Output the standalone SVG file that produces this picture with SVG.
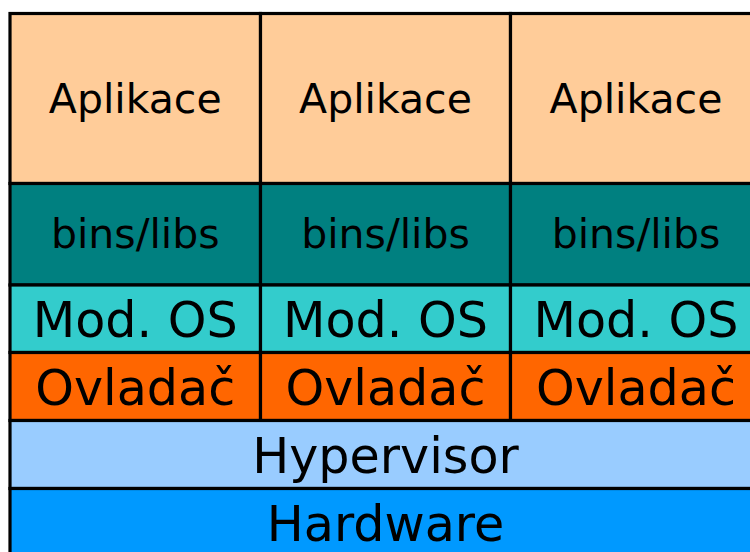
<svg xmlns="http://www.w3.org/2000/svg" width="750" height="552" viewBox="0 0 750 552">
  <style>
    .cell { stroke: #000; stroke-width: 3.2; }
    .app { fill: #ffcc99; }
    .lib { fill: #008080; }
    .os { fill: #33cccc; }
    .drv { fill: #ff6600; }
    .hyp { fill: #99ccff; }
    .hw { fill: #0099ff; }
    text { font-family: "DejaVu Sans", sans-serif; fill: #000; text-anchor: middle; }
    .s { font-size: 41px; }
    .l { font-size: 49.2px; }
  </style>
  <rect width="750" height="552" fill="#fff"/>

  <!-- column 1 -->
  <g id="col1">
    <g id="app1"><rect class="cell app" x="10" y="13.5" width="250.5" height="170"/><text class="s" x="135.25" y="113">Aplikace</text></g>
    <g id="lib1"><rect class="cell lib" x="10" y="183.5" width="250.5" height="101.5"/><text class="s" x="135.25" y="248">bins/libs</text></g>
    <g id="os1"><rect class="cell os" x="10" y="285" width="250.5" height="67.5"/><text class="l" x="135.25" y="336.5">Mod. OS</text></g>
    <g id="drv1"><rect class="cell drv" x="10" y="352.5" width="250.5" height="68"/><text class="l" x="135.25" y="404.5">Ovladač</text></g>
  </g>

  <!-- column 2 -->
  <g id="col2">
    <g id="app2"><rect class="cell app" x="260.5" y="13.5" width="250" height="170"/><text class="s" x="385.5" y="113">Aplikace</text></g>
    <g id="lib2"><rect class="cell lib" x="260.5" y="183.5" width="250" height="101.5"/><text class="s" x="385.5" y="248">bins/libs</text></g>
    <g id="os2"><rect class="cell os" x="260.5" y="285" width="250" height="67.5"/><text class="l" x="385.5" y="336.5">Mod. OS</text></g>
    <g id="drv2"><rect class="cell drv" x="260.5" y="352.5" width="250" height="68"/><text class="l" x="385.5" y="404.5">Ovladač</text></g>
  </g>

  <!-- column 3 -->
  <g id="col3">
    <g id="app3"><rect class="cell app" x="510.5" y="13.5" width="250.5" height="170"/><text class="s" x="636" y="113">Aplikace</text></g>
    <g id="lib3"><rect class="cell lib" x="510.5" y="183.5" width="250.5" height="101.5"/><text class="s" x="636" y="248">bins/libs</text></g>
    <g id="os3"><rect class="cell os" x="510.5" y="285" width="250.5" height="67.5"/><text class="l" x="636" y="336.5">Mod. OS</text></g>
    <g id="drv3"><rect class="cell drv" x="510.5" y="352.5" width="250.5" height="68"/><text class="l" x="636" y="404.5">Ovladač</text></g>
  </g>

  <!-- shared layers -->
  <g id="hypervisor"><rect class="cell hyp" x="10" y="420.5" width="751" height="68"/><text class="l" x="385.5" y="472.5">Hypervisor</text></g>
  <g id="hardware"><rect class="cell hw" x="10" y="488.5" width="751" height="70"/><text class="l" x="385.5" y="540.5">Hardware</text></g>

  <g id="connectors"/>
</svg>
